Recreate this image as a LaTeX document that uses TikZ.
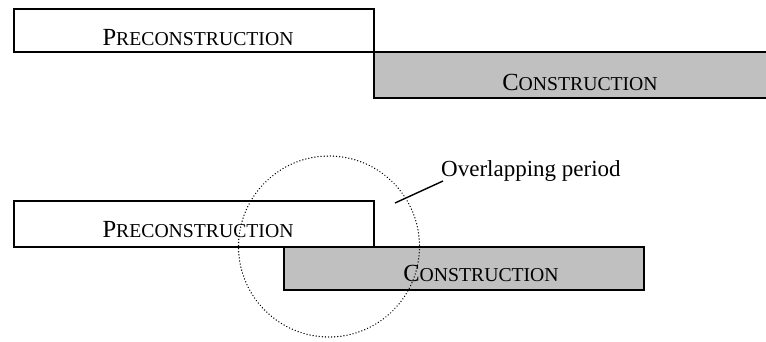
\documentclass[tikz,border=0pt]{standalone}
\usepackage{fontspec}
\setmainfont{Liberation Serif}
\definecolor{boxgray}{HTML}{C0C0C0}
\newcommand{\bigsc}[2]{{\fontsize{24.6}{28}\selectfont #1}{\fontsize{19.7}{24}\selectfont #2}}
\tikzset{phase/.style={draw,line width=1.4pt},
  phasetext/.style={anchor=base,inner sep=0pt}}
\begin{document}
\begin{tikzpicture}[x=1pt,y=-1pt]
\useasboundingbox (0,0) rectangle (766,341);

\draw [phase] (14,9) rectangle (374,52);
\draw [phase,fill=boxgray] (374,52) rectangle (770,98);
\node [phasetext] (pretop) at (198,45) {\bigsc{P}{RECONSTRUCTION}};
\node [phasetext] (contop) at (580,90) {\bigsc{C}{ONSTRUCTION}};

\draw [phase] (14,201) rectangle (374,247);
\draw [phase,fill=boxgray] (284,247) rectangle (644,290);
\node [phasetext] (prebot) at (198,237) {\bigsc{P}{RECONSTRUCTION}};
\node [phasetext] (conbot) at (481,281) {\bigsc{C}{ONSTRUCTION}};

\node [anchor=base west,inner sep=0pt,font=\fontsize{23}{27}\selectfont] (overlap) at (441,176) {Overlapping period};
\coordinate (lead) at (395,203);
\draw [line width=1.4pt] ([shift={(2,5)}]overlap.base west) -- (lead);

\draw [line width=1.4pt,dash pattern=on 0.1pt off 3pt,line cap=round] (329,246.5) circle (90.5);

\end{tikzpicture}
\end{document}
